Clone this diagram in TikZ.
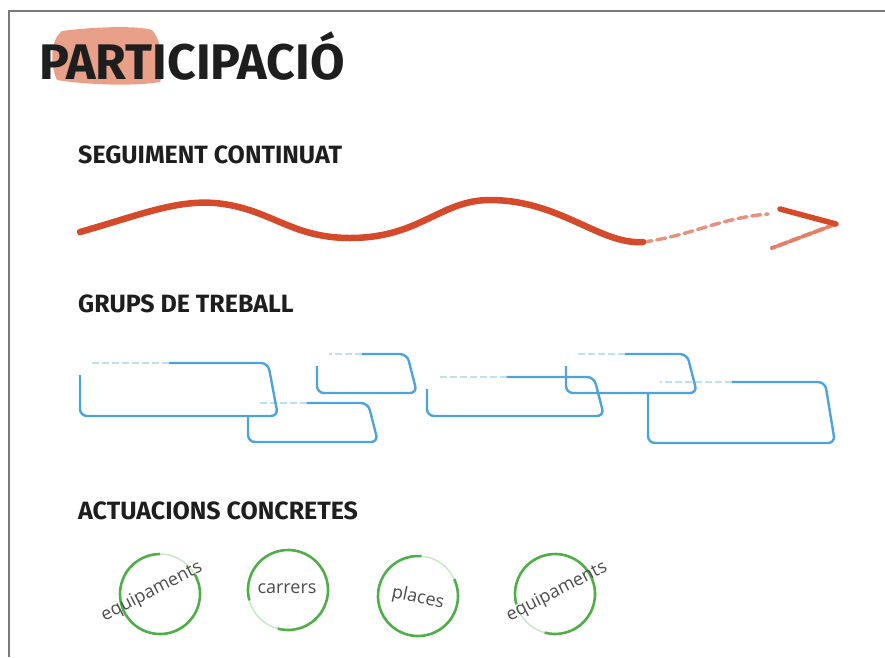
\documentclass[tikz,border=0pt]{standalone}
\usepackage{fontspec}
\setmainfont{Fira Sans}
\newfontfamily\labelfont{Open Sans}
\usetikzlibrary{calc,positioning}
\definecolor{titol}{HTML}{1E1E1E}
\definecolor{salmo}{HTML}{E9A088}
\definecolor{vermell}{HTML}{D64A2C}
\definecolor{blau}{HTML}{4CA3DE}
\definecolor{verd}{HTML}{4FAE47}
\definecolor{marc}{HTML}{7A7A7A}
\tikzstyle{heading} = [
	anchor = west,
	inner sep = 0pt,
	text = titol,
	font = \fontsize{25}{27}\selectfont\bfseries
	]
\tikzstyle{wave} = [
	vermell,
	line width = 6.5pt,
	line cap = round,
	draw
	]
\tikzstyle{grup} = [
	blau,
	line width = 2.4pt,
	rounded corners = 7pt,
	draw
	]
\tikzstyle{actuacio} = [
	verd,
	line width = 2.6pt,
	draw
	]
\tikzstyle{etiqueta} = [
	inner sep = 0pt,
	text = black!70,
	font = \labelfont\fontsize{18}{20}\selectfont
	]

\begin{document}
\begin{tikzpicture}[x=1pt,y=-1pt]
	\useasboundingbox (0,0) rectangle (885,657);
	\draw[marc, line width=1.5pt] (9,657) -- (9,11) -- (885,11);
	% title
	\fill[salmo] (62,31) .. controls (100,26) and (140,26) .. (152,30)
		.. controls (162,40) and (165,70) .. (160,82)
		.. controls (130,87) and (80,84) .. (57,80)
		.. controls (50,65) and (50,40) .. (62,31) -- cycle;
	\node[heading, font=\fontsize{50}{53}\selectfont\bfseries] (titol) at (39,56) {PARTICIPACIÓ};
	% seguiment
	\node[heading] (seg) at (78,155) {SEGUIMENT CONTINUAT};
	\coordinate (w0) at (80,232);
	\coordinate (w1) at (643,242);
	\coordinate (w2) at (768,214);
	\draw[wave] (w0) .. controls (140,215) and (175,200) .. (215,203)
		.. controls (270,208) and (290,238) .. (350,238)
		.. controls (420,238) and (440,200) .. (490,200)
		.. controls (560,200) and (600,245) .. (w1);
	\draw[wave, line width=3.5pt, opacity=0.6, dash pattern=on 9pt off 5pt] (w1) .. controls (690,236) and (720,218) .. (w2);
	\coordinate (tip) at (836,224);
	\draw[wave, line width=5.5pt] (780,209) -- (tip);
	\draw[wave, line width=4pt, opacity=0.7, dash pattern=on 10pt off 3pt] (tip) -- (772,248);
	% grups
	\node[heading] (grups) at (78,304) {GRUPS DE TREBALL};
	\foreach \l/\t/\r/\b in {80/363/278/416, 248/403/378/442, 317/354/417/393,
		427/377/604/416, 566/354/697/393, 648/382/835/443}{
		\draw[grup] (\l,\t+12) -- (\l,\b) -- (\r,\b) -- (\r-10,\t) -- ({\l+0.45*(\r-\l)},\t);
		\draw[grup, opacity=0.35, dash pattern=on 7pt off 3pt] ({\l+0.45*(\r-\l)},\t) -- (\l+12,\t);
	}
	% actuacions
	\node[heading] (act) at (78,511) {ACTUACIONS CONCRETES};
	\foreach \cx/\cy/\g in {160/594/60, 288/590/225, 418/596/55, 555/594/225}{
		\draw[actuacio] (\cx,\cy) ++({-\g+30}:40) arc[start angle={-\g+30}, end angle={-\g+330}, radius=40];
		\draw[actuacio, line width=1.5pt, opacity=0.3] (\cx,\cy) ++({-\g-30}:40) arc[start angle={-\g-30}, end angle={-\g+30}, radius=40];
	}
	\node[etiqueta, rotate=27] (eq1) at (152,592) {equipaments};
	\node[etiqueta] (carrers) at (287,589) {carrers};
	\node[etiqueta, rotate=-12] (places) at (418,598) {places};
	\node[etiqueta, rotate=27] (eq2) at (557,592) {equipaments};
\end{tikzpicture}
\end{document}
